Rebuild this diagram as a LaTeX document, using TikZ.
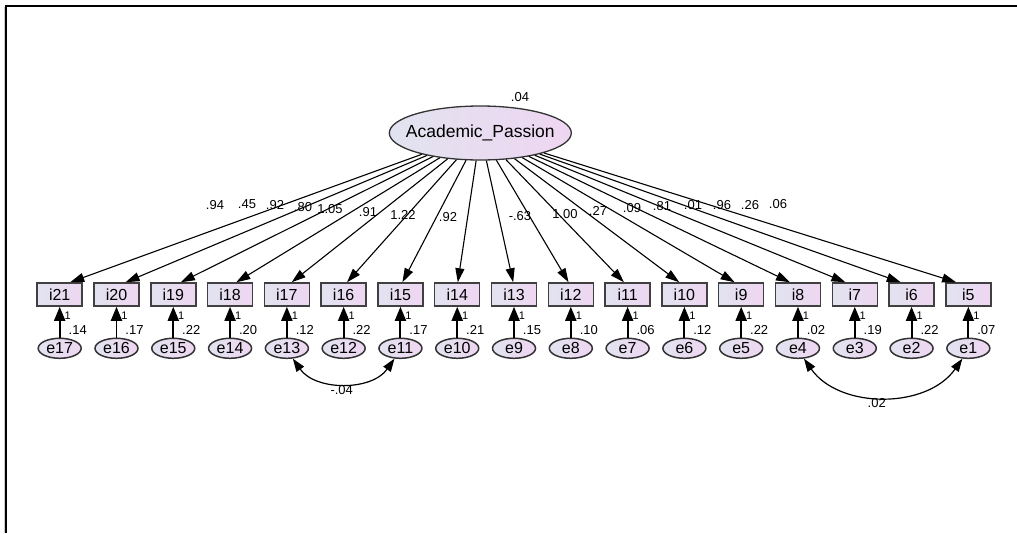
\documentclass[tikz,border=0pt]{standalone}
\usepackage{fontspec}
\setmainfont{Liberation Sans}
\usetikzlibrary{arrows.meta,shapes.geometric}

\definecolor{amosblue}{RGB}{226,227,240}
\definecolor{amospink}{RGB}{238,214,241}

\tikzset{
  latent/.style={ellipse, draw=black!80, line width=1.3pt, left color=amosblue, right color=amospink,
    minimum width=182pt, minimum height=54pt, inner sep=0pt},
  latentname/.style={inner sep=0pt, font=\fontsize{17.5}{18}\selectfont},
  obsbox/.style={rectangle, draw=black!75, line width=1.5pt, left color=amosblue, right color=amospink,
    minimum width=45pt, minimum height=23pt, inner sep=0pt, font=\fontsize{16}{16}\selectfont},
  errnode/.style={ellipse, draw=black!80, line width=1.5pt, left color=amosblue, right color=amospink,
    minimum width=43pt, minimum height=20pt, inner sep=0pt, font=\fontsize{16}{16}\selectfont},
  loadarrow/.style={line width=1.1pt, -{Triangle[length=14pt,width=9pt]}},
  errarrow/.style={line width=1.9pt, -{Triangle[length=14pt,width=11pt]}},
  covarrow/.style={line width=1.2pt, {Triangle[length=13pt,width=9pt]}-{Triangle[length=13pt,width=9pt]}},
  loadlabel/.style={inner sep=0pt, font=\fontsize{13}{13}\selectfont},
  varlabel/.style={inner sep=0pt, font=\fontsize{13}{13}\selectfont},
  onelabel/.style={inner sep=0pt, font=\fontsize{11}{11}\selectfont}
}

\begin{document}
\begin{tikzpicture}[x=1pt,y=-1pt]
                \newcommand{\spacing}{56.79}
                \newcommand{\xfirst}{59.7}
                \newcommand{\boxrow}{294.5}
                \newcommand{\errrow}{348.3}

                % Frame
                \useasboundingbox (0,0) rectangle (1017,533);
                \draw[gray!40, line width=1pt] (4,533) -- (4,7);
                \draw[line width=2pt] (5.8,533) -- (5.8,5.8) -- (1017,5.8);

                % Draw latent variable
                \node[latent, label={[latentname]center:Academic\_Passion}] (passion) at (480.3,133) {};
                \node[varlabel] (vpassion) at (520,97) {.04};

                % Draw indicators, error terms and their paths
                \foreach \k/\var in {0/.14,1/.17,2/.22,3/.20,4/.12,5/.22,6/.17,7/.21,8/.15,9/.10,10/.06,11/.12,12/.22,13/.02,14/.19,15/.22,16/.07} {
                    \pgfmathtruncatemacro{\itemnum}{21-\k}
                    \pgfmathtruncatemacro{\errnum}{17-\k}
                    \node[obsbox] (i\itemnum) at (\xfirst+\k*\spacing,\boxrow) {i\itemnum};
                    \node[errnode] (e\errnum) at (\xfirst+\k*\spacing,\errrow) {e\errnum};
                    \draw[errarrow] (e\errnum) -- (i\itemnum);
                    \node[onelabel] (one\errnum) at (\xfirst+\k*\spacing+8,316) {1};
                    \node[varlabel] (v\errnum) at (\xfirst+\k*\spacing+18,330) {\var};
                }

                % Draw loadings
                \foreach \k/\load/\lx/\ly in {0/.94/215/205,1/.45/247/204,2/.92/275/205,3/.80/303/207,4/1.05/330/209,5/.91/368/212,6/1.22/403/215,7/.92/448/217,8/-.63/520/216,9/1.00/565/214,10/.27/598/211,11/.09/632/208,12/.81/662/206,13/.01/693/205,14/.96/722/205,15/.26/750/205,16/.06/778/204} {
                    \pgfmathtruncatemacro{\itemnum}{21-\k}
                    \draw[loadarrow] (passion) -- ([xshift={(480-\xfirst-\k*\spacing)*0.025}]i\itemnum.north);
                    \node[loadlabel] (l\itemnum) at (\lx,\ly) {\load};
                }

                % Draw covariances
                \draw[covarrow] (e13.-60) to[out=-55,in=-125] (e11.-120);
                \node[varlabel] (c1311) at (341.7,390) {-.04};
                \draw[covarrow] (e4.-60) to[out=-55,in=-125] (e1.-120);
                \node[varlabel] (c41) at (876.7,403) {.02};
            \end{tikzpicture}
\end{document}
